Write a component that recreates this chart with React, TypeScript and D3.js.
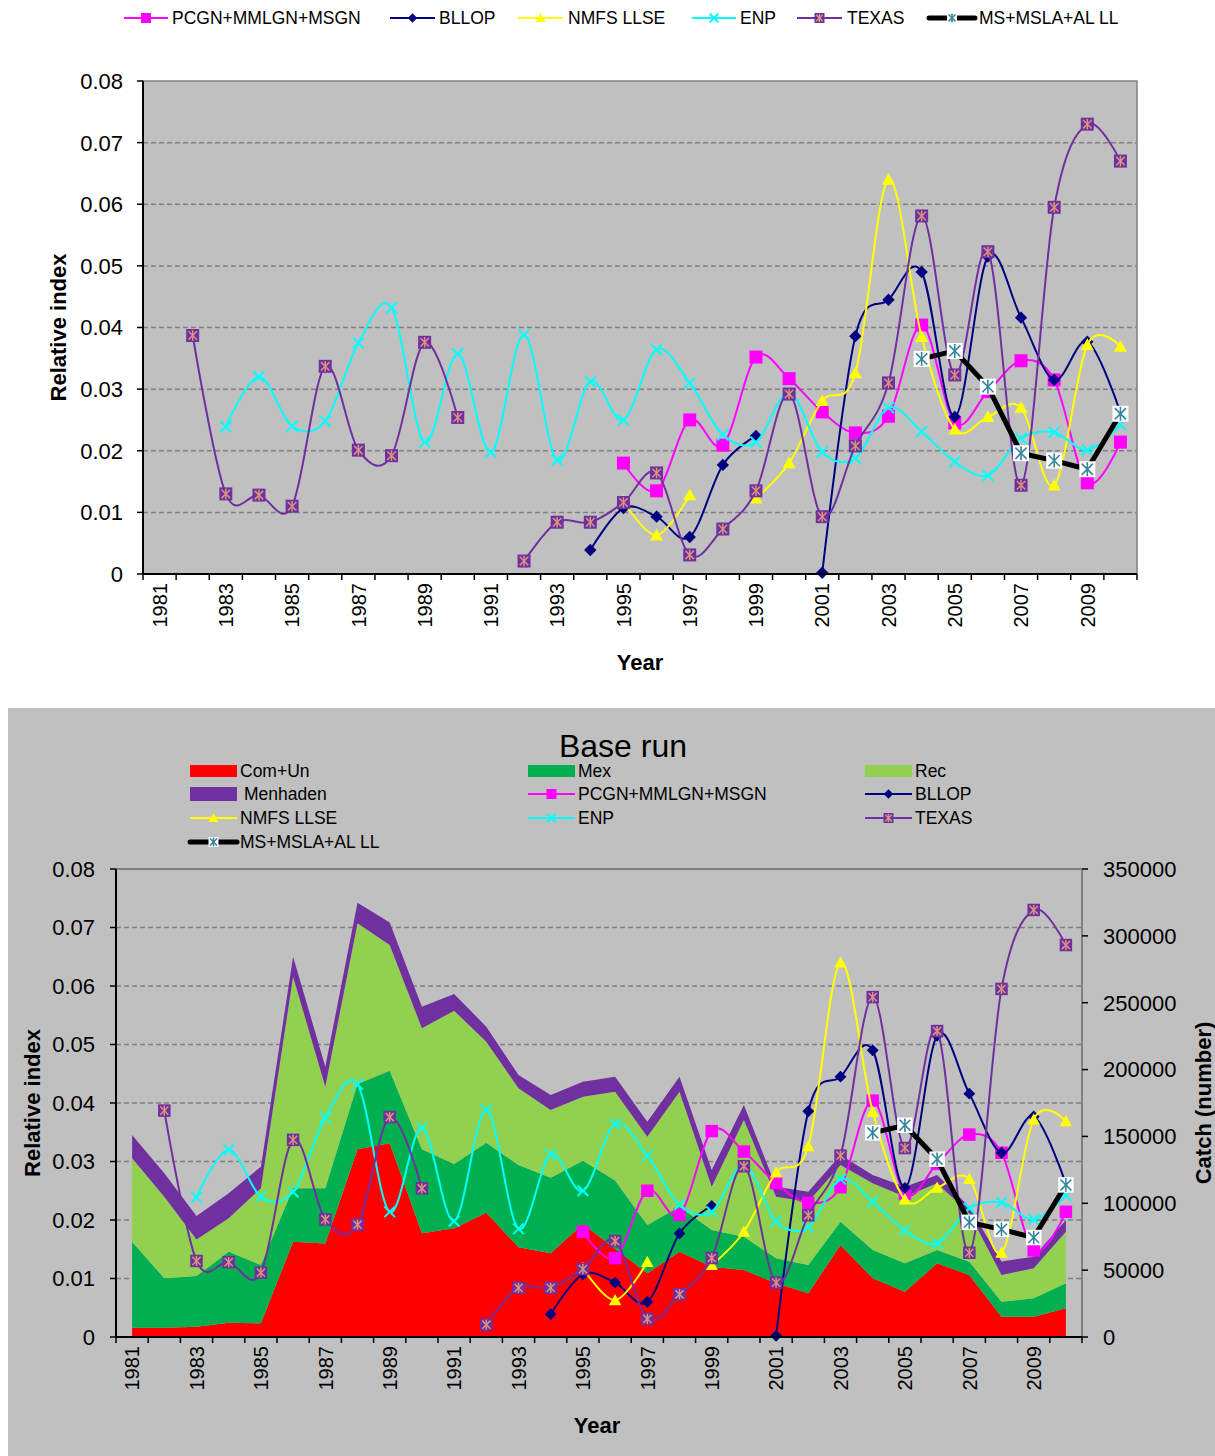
import React from 'react';
import * as d3 from 'd3';

const years = [1981, 1982, 1983, 1984, 1985, 1986, 1987, 1988, 1989, 1990, 1991, 1992, 1993, 1994, 1995, 1996, 1997, 1998, 1999, 2000, 2001, 2002, 2003, 2004, 2005, 2006, 2007, 2008, 2009, 2010];
const yearLabels = [1981, 1983, 1985, 1987, 1989, 1991, 1993, 1995, 1997, 1999, 2001, 2003, 2005, 2007, 2009];

const pcgn = [null, null, null, null, null, null, null, null, null, null, null, null, null, null, 0.018, 0.0135, 0.025, 0.0209, 0.0352, 0.0317, 0.0263, 0.0229, 0.0256, 0.0404, 0.0245, 0.0296, 0.0346, 0.0315, 0.0148, 0.0214];
const bllop = [null, null, null, null, null, null, null, null, null, null, null, null, null, 0.0039, 0.0107, 0.0093, 0.006, 0.0177, 0.0224, null, 0.0002, 0.0386, 0.0445, 0.049, 0.0255, 0.0515, 0.0416, 0.0315, 0.0377, 0.0262];
const nmfs = [null, null, null, null, null, null, null, null, null, null, null, null, null, null, 0.0118, 0.0063, 0.0128, null, 0.0123, 0.018, 0.0281, 0.0326, 0.064, 0.0385, 0.0235, 0.0255, 0.027, 0.0144, 0.0372, 0.0369];
const enp = [null, null, 0.0239, 0.032, 0.024, 0.0248, 0.0375, 0.0432, 0.0214, 0.0357, 0.0198, 0.0388, 0.0185, 0.0312, 0.025, 0.0364, 0.031, 0.0226, 0.0214, 0.0294, 0.0198, 0.0188, 0.027, 0.0231, 0.0182, 0.016, 0.022, 0.023, 0.0201, 0.0242];
const texas = [null, 0.0387, 0.013, 0.0128, 0.011, 0.0337, 0.0201, 0.0192, 0.0376, 0.0254, null, 0.0021, 0.0084, 0.0084, 0.0116, 0.0164, 0.0031, 0.0073, 0.0135, 0.0292, 0.0093, 0.0208, 0.031, 0.0581, 0.0323, 0.0523, 0.0144, 0.0595, 0.073, 0.067];
const msll = [null, null, null, null, null, null, null, null, null, null, null, null, null, null, null, null, null, null, null, null, null, null, null, 0.0349, 0.0362, 0.0304, 0.0196, 0.0184, 0.017, 0.026];

const comUn = [7000, 7000, 7700, 10700, 10200, 71300, 70000, 140400, 144900, 77600, 81300, 93000, 67100, 62600, 84500, 66000, 47600, 63800, 52600, 50100, 40200, 32700, 68800, 43900, 33900, 55100, 46400, 15200, 15200, 21500];
const mex = [64300, 36900, 37900, 53100, 43600, 39900, 41200, 48800, 54300, 62800, 48100, 52300, 61500, 56500, 47400, 51000, 36200, 33700, 27400, 24900, 18700, 21100, 17400, 21200, 21200, 10000, 9900, 11200, 13700, 18700];
const rec = [62300, 61000, 27400, 25000, 57400, 158300, 76000, 120200, 94000, 90500, 114600, 75600, 57400, 50700, 47800, 66500, 66000, 86000, 32400, 87300, 46000, 47400, 42400, 49800, 49800, 49800, 36200, 20000, 22500, 38600];
const menhaden = [17500, 17500, 17500, 18700, 16200, 14900, 15000, 15400, 16700, 16100, 12500, 11200, 10000, 11200, 11200, 11200, 11200, 11200, 12500, 11200, 7500, 7500, 7500, 6200, 7500, 6200, 5000, 10000, 8700, 8700];

const indexTicks = [0, 0.01, 0.02, 0.03, 0.04, 0.05, 0.06, 0.07, 0.08];
const catchTicks = [0, 50000, 100000, 150000, 200000, 250000, 300000, 350000];

const FONT = "'Liberation Sans', Arial, Helvetica, sans-serif";

type MarkerKind = 'square' | 'diamond' | 'triangle' | 'x' | 'texas' | 'ms';
interface LineSeries { name: string; values: (number | null)[]; color: string; marker: MarkerKind; width: number; smooth: boolean; }

const lineSeries: LineSeries[] = [
  { name: 'PCGN+MMLGN+MSGN', values: pcgn, color: '#ff00ff', marker: 'square', width: 2, smooth: true },
  { name: 'BLLOP', values: bllop, color: '#000080', marker: 'diamond', width: 2, smooth: true },
  { name: 'NMFS LLSE', values: nmfs, color: '#ffff00', marker: 'triangle', width: 2, smooth: true },
  { name: 'ENP', values: enp, color: '#00ffff', marker: 'x', width: 2, smooth: true },
  { name: 'TEXAS', values: texas, color: '#7030a0', marker: 'texas', width: 2, smooth: true },
  { name: 'MS+MSLA+AL LL', values: msll, color: '#000000', marker: 'ms', width: 5, smooth: false },
];

const areaKeys = ['Com+Un', 'Mex', 'Rec', 'Menhaden'];
const areaColors: Record<string, string> = { 'Com+Un': '#ff0000', Mex: '#00b050', Rec: '#92d050', Menhaden: '#7030a0' };
const areaTable = years.map((y, i) => ({ year: y, 'Com+Un': comUn[i], Mex: mex[i], Rec: rec[i], Menhaden: menhaden[i] }));

function Marker({ kind, x, y, s }: { kind: MarkerKind; x: number; y: number; s: number }) {
  const h = s / 2;
  const asterisk = (color: string, r: number, w: number) => (
    <g stroke={color} strokeWidth={w}>
      <line x1={x - r} y1={y - r} x2={x + r} y2={y + r} />
      <line x1={x - r} y1={y + r} x2={x + r} y2={y - r} />
      <line x1={x} y1={y - r * 1.25} x2={x} y2={y + r * 1.25} />
    </g>
  );
  switch (kind) {
    case 'square':
      return <rect x={x - h} y={y - h} width={s} height={s} fill="#ff00ff" />;
    case 'diamond':
      return <path d={`M${x},${y - h * 0.95}L${x + h * 0.95},${y}L${x},${y + h * 0.95}L${x - h * 0.95},${y}Z`} fill="#000080" />;
    case 'triangle':
      return <path d={`M${x},${y - h}L${x + h},${y + h * 0.8}L${x - h},${y + h * 0.8}Z`} fill="#ffff00" />;
    case 'x':
      return (
        <g stroke="#00ffff" strokeWidth={2}>
          <line x1={x - h * 0.85} y1={y - h * 0.85} x2={x + h * 0.85} y2={y + h * 0.85} />
          <line x1={x - h * 0.85} y1={y + h * 0.85} x2={x + h * 0.85} y2={y - h * 0.85} />
        </g>
      );
    case 'texas':
      return (
        <g>
          <rect x={x - h} y={y - h} width={s} height={s} fill="#7030a0" />
          {asterisk('#d9967a', h * 0.65, 1.5)}
        </g>
      );
    case 'ms':
      return (
        <g>
          <rect x={x - h} y={y - h} width={s} height={s} fill="#ffffff" />
          {asterisk('#31859c', h * 0.7, 1.6)}
        </g>
      );
  }
  return null;
}

function SeriesLines({ cx, y, ms }: { cx: (i: number) => number; y: d3.ScaleLinear<number, number>; ms: number }) {
  return (
    <g>
      {lineSeries.map((s) => {
        const gen = d3
          .line<number | null>()
          .defined((d) => d !== null)
          .x((_, i) => cx(i))
          .y((d) => y(d as number))
          .curve(s.smooth ? d3.curveCardinal.tension(0) : d3.curveLinear);
        return (
          <g key={s.name}>
            <path d={gen(s.values) || ''} fill="none" stroke={s.color} strokeWidth={s.width} strokeLinejoin="round" />
            {s.values.map((v, i) =>
              v === null ? null : <Marker key={i} kind={s.marker} x={cx(i)} y={y(v)} s={s.marker === 'ms' ? ms + 3 : ms} />
            )}
          </g>
        );
      })}
    </g>
  );
}

function LegendLine({ s, x1, x2, y }: { s: LineSeries; x1: number; x2: number; y: number }) {
  return (
    <g>
      <line x1={x1} x2={x2} y1={y} y2={y} stroke={s.color} strokeWidth={s.width === 5 ? 5 : 2} strokeLinecap={s.width === 5 ? 'round' : 'butt'} />
      <Marker kind={s.marker} x={(x1 + x2) / 2} y={y} s={10} />
    </g>
  );
}

function TopChart() {
  const L = 143, R = 1137, T = 81, B = 574;
  const x = d3.scaleBand<number>().domain(years).range([L, R]).padding(0);
  const cx = (i: number) => (x(years[i]) as number) + x.bandwidth() / 2;
  const y = d3.scaleLinear().domain([0, 0.08]).range([B, T]);
  const legendPos = [
    { x1: 124, x2: 168, tx: 172 },
    { x1: 390, x2: 435, tx: 439 },
    { x1: 518, x2: 563, tx: 568 },
    { x1: 692, x2: 736, tx: 740 },
    { x1: 797, x2: 842, tx: 847 },
    { x1: 929, x2: 975, tx: 979 },
  ];
  return (
    <g>
      {lineSeries.map((s, i) => (
        <g key={s.name}>
          <LegendLine s={s} x1={legendPos[i].x1} x2={legendPos[i].x2} y={18} />
          <text x={legendPos[i].tx} y={18} dy="0.35em" fontSize={17.5} fontFamily={FONT}>{s.name}</text>
        </g>
      ))}
      <rect x={L} y={T} width={R - L} height={B - T} fill="#c0c0c0" stroke="#808080" strokeWidth={1.5} />
      {indexTicks.slice(1, -1).map((t) => (
        <line key={t} x1={L} x2={R} y1={y(t)} y2={y(t)} stroke="#808080" strokeWidth={1.5} strokeDasharray="5,3" />
      ))}
      <SeriesLines cx={cx} y={y} ms={13} />
      <line x1={L} x2={L} y1={T} y2={B} stroke="#000" strokeWidth={2} />
      <line x1={L} x2={R} y1={B} y2={B} stroke="#000" strokeWidth={2} />
      {indexTicks.map((t) => (
        <g key={t}>
          <line x1={L - 6} x2={L} y1={y(t)} y2={y(t)} stroke="#000" strokeWidth={1.5} />
          <text x={L - 20} y={y(t)} dy="0.36em" textAnchor="end" fontSize={22} fontFamily={FONT}>{String(t)}</text>
        </g>
      ))}
      {d3.range(years.length + 1).map((i) => (
        <line key={i} x1={L + i * x.bandwidth()} x2={L + i * x.bandwidth()} y1={B} y2={B + 6} stroke="#000" strokeWidth={1.5} />
      ))}
      {yearLabels.map((yr) => (
        <text key={yr} transform={`translate(${(x(yr) as number) + x.bandwidth() / 2},${B + 9}) rotate(-90)`} dy="0.36em" textAnchor="end" fontSize={20} fontFamily={FONT}>{yr}</text>
      ))}
      <text x={(L + R) / 2} y={662} dy="0.36em" textAnchor="middle" fontSize={22} fontWeight="bold" fontFamily={FONT}>Year</text>
      <text transform={`translate(58,${(T + B) / 2}) rotate(-90)`} dy="0.36em" textAnchor="middle" fontSize={22} fontWeight="bold" fontFamily={FONT}>Relative index</text>
    </g>
  );
}

function BottomChart() {
  const L = 116, R = 1082, T = 869, B = 1337;
  const x = d3.scaleBand<number>().domain(years).range([L, R]).padding(0);
  const cx = (i: number) => (x(years[i]) as number) + x.bandwidth() / 2;
  const y = d3.scaleLinear().domain([0, 0.08]).range([B, T]);
  const y2 = d3.scaleLinear().domain([0, 350000]).range([B, T]);
  const stacked = d3.stack<any>().keys(areaKeys)(areaTable);
  const area = d3
    .area<any>()
    .x((_, i) => cx(i))
    .y0((d) => y2(d[0]))
    .y1((d) => y2(d[1]));
  const legendRows = [771, 794, 818, 842];
  const cols = [{ x1: 190, tx: 240 }, { x1: 528, tx: 578 }, { x1: 865, tx: 915 }];
  const items: { label: string; area?: string; line?: LineSeries }[] = [
    { label: 'Com+Un', area: 'Com+Un' },
    { label: 'Mex', area: 'Mex' },
    { label: 'Rec', area: 'Rec' },
    { label: 'Menhaden', area: 'Menhaden' },
    ...lineSeries.map((s) => ({ label: s.name, line: s })),
  ];
  return (
    <g>
      <rect x={8} y={708} width={1207} height={748} fill="#c0c0c0" />
      <text x={623} y={745} dy="0.36em" textAnchor="middle" fontSize={32} fontFamily={FONT}>Base run</text>
      {items.map((it, k) => {
        const r = Math.floor(k / 3), c = k % 3;
        const yy = legendRows[r];
        const col = cols[c];
        return (
          <g key={it.label}>
            {it.area ? (
              <rect x={col.x1} y={yy - (it.area === 'Menhaden' ? 7 : 6)} width={47} height={it.area === 'Menhaden' ? 14 : 12} fill={areaColors[it.area]} />
            ) : (
              <LegendLine s={it.line as LineSeries} x1={col.x1} x2={col.x1 + 47} y={yy} />
            )}
            <text x={col.tx + (it.label === 'Menhaden' ? 4 : 0)} y={yy} dy="0.36em" fontSize={17.5} fontFamily={FONT}>{it.label}</text>
          </g>
        );
      })}
      <line x1={L} x2={R} y1={T} y2={T} stroke="#808080" strokeWidth={2} />
      {indexTicks.slice(1, -1).map((t) => (
        <line key={t} x1={L} x2={R} y1={y(t)} y2={y(t)} stroke="#808080" strokeWidth={1.5} strokeDasharray="5,3" />
      ))}
      {stacked.map((layer) => (
        <path key={layer.key} d={area(layer as any) || ''} fill={areaColors[layer.key]} />
      ))}
      <SeriesLines cx={cx} y={y} ms={12.5} />
      <line x1={R} x2={R} y1={T} y2={B} stroke="#808080" strokeWidth={2} />
      <line x1={L} x2={L} y1={T} y2={B} stroke="#000" strokeWidth={2} />
      <line x1={L} x2={R} y1={B} y2={B} stroke="#000" strokeWidth={2} />
      {indexTicks.map((t) => (
        <g key={t}>
          <line x1={L - 6} x2={L} y1={y(t)} y2={y(t)} stroke="#000" strokeWidth={1.5} />
          <text x={L - 21} y={y(t)} dy="0.36em" textAnchor="end" fontSize={22} fontFamily={FONT}>{String(t)}</text>
        </g>
      ))}
      {catchTicks.map((t) => (
        <g key={t}>
          <line x1={R} x2={R + 6} y1={y2(t)} y2={y2(t)} stroke="#000" strokeWidth={1.5} />
          <text x={R + 21} y={y2(t)} dy="0.36em" textAnchor="start" fontSize={22} fontFamily={FONT}>{String(t)}</text>
        </g>
      ))}
      {d3.range(years.length + 1).map((i) => (
        <line key={i} x1={L + i * x.bandwidth()} x2={L + i * x.bandwidth()} y1={B} y2={B + 6} stroke="#000" strokeWidth={1.5} />
      ))}
      {yearLabels.map((yr) => (
        <text key={yr} transform={`translate(${(x(yr) as number) + x.bandwidth() / 2},${B + 9}) rotate(-90)`} dy="0.36em" textAnchor="end" fontSize={20} fontFamily={FONT}>{yr}</text>
      ))}
      <text x={597} y={1425} dy="0.36em" textAnchor="middle" fontSize={22} fontWeight="bold" fontFamily={FONT}>Year</text>
      <text transform={`translate(32,${(T + B) / 2}) rotate(-90)`} dy="0.36em" textAnchor="middle" fontSize={22} fontWeight="bold" fontFamily={FONT}>Relative index</text>
      <text transform={`translate(1203,${(T + B) / 2}) rotate(-90)`} dy="0.36em" textAnchor="middle" fontSize={22} fontWeight="bold" fontFamily={FONT}>Catch (number)</text>
    </g>
  );
}

export default function App() {
  return (
    <svg width={1215} height={1456} style={{ position: 'absolute', left: 0, top: 0, background: '#ffffff' }}>
      <rect x={0} y={0} width={1215} height={1456} fill="#ffffff" />
      <TopChart />
      <BottomChart />
    </svg>
  );
}
